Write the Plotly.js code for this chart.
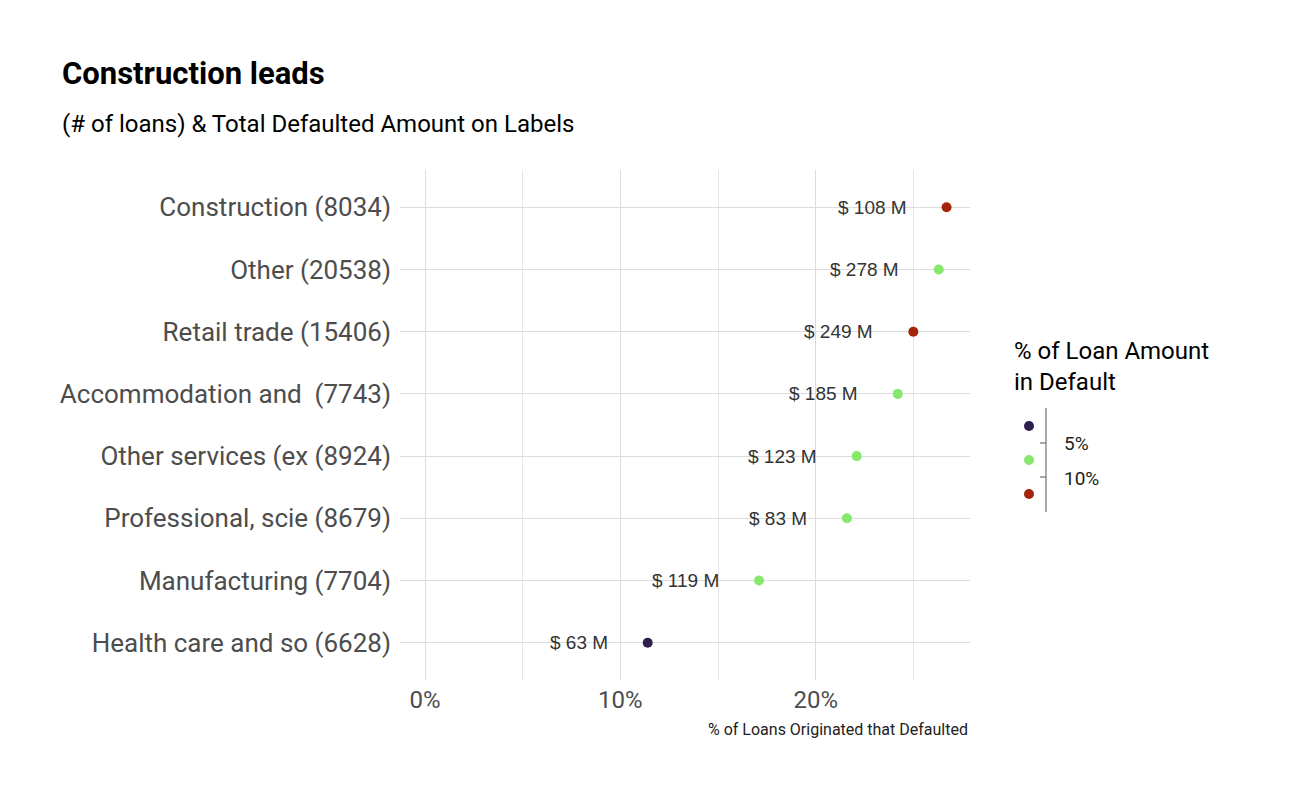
<!DOCTYPE html>
<html>
<head>
<meta charset="utf-8">
<script src="https://cdn.plot.ly/plotly-3.0.1.min.js"></script>
<style>body{margin:0;background:#fff}#graph{width:1296px;height:800px}</style>
</head>
<body>
<div id="graph"></div>
<script>
//chart data
const industries = ['Health care and so (6628)', 'Manufacturing (7704)', 'Professional, scie (8679)',
  'Other services (ex (8924)', 'Accommodation and  (7743)', 'Retail trade (15406)',
  'Other (20538)', 'Construction (8034)']
const pctDefaulted = [11.4, 17.1, 21.6, 22.1, 24.2, 25.0, 26.3, 26.7]
const amountLabels = ['$ 63 M', '$ 119 M', '$ 83 M', '$ 123 M', '$ 185 M', '$ 249 M', '$ 278 M', '$ 108 M']
const amountGroup = ['low', 'mid', 'mid', 'mid', 'mid', 'high', 'mid', 'high']
const groupColors = {low: '#2e1f4d', mid: '#86e86c', high: '#a3230b'}
const legendLabels = ['5%', '10%']

const font = 'Roboto, "Noto Sans", sans-serif'

const points = {
  x: pctDefaulted,
  y: industries,
  type: 'scatter',
  mode: 'markers',
  marker: {size: 10, color: amountGroup.map(g => groupColors[g])},
  hoverinfo: 'x+y',
  showlegend: false
}

//value labels to the left of each point
const labels = industries.map((ind, i) => ({
  x: pctDefaulted[i], y: ind, text: amountLabels[i],
  showarrow: false, xanchor: 'right', xshift: -38,
  font: {family: 'Liberation Sans, Arial', size: 19, color: '#333'}
}))

//pixel helpers: paper coords with margin l=400,r=326,t=170,b=120
const L = 400, R = 970, T = 170, B = 680
const px = x => (x - L) / (R - L)
const py = y => (B - y) / (B - T)

//legend + titles built by hand
const dotYs = [426, 460, 494]
const textItems = [
  {text: '% of Loan Amount<br>in Default', x: 1012, y: 366, xanchor: 'left', size: 24, color: '#000'},
  {text: legendLabels[0], x: 1062, y: 443, xanchor: 'left', size: 19, color: '#222'},
  {text: legendLabels[1], x: 1062, y: 478, xanchor: 'left', size: 19, color: '#222'},
  {text: '<b>Construction leads</b>', x: 60, y: 73, xanchor: 'left', size: 31, color: '#000'},
  {text: '(# of loans) & Total Defaulted Amount on Labels', x: 60, y: 124, xanchor: 'left', size: 24, color: '#000'},
  {text: '% of Loans Originated that Defaulted', x: 970, y: 729, xanchor: 'right', size: 16, color: '#222'}
]

const shapes = [
  ...dotYs.map((y, i) => ({
    type: 'circle', xref: 'paper', yref: 'paper',
    x0: px(1024), x1: px(1034), y0: py(y + 5), y1: py(y - 5),
    fillcolor: Object.values(groupColors)[i], line: {width: 0}
  })),
  {type: 'line', xref: 'paper', yref: 'paper', x0: px(1046), x1: px(1046), y0: py(408), y1: py(512), line: {color: '#555', width: 1}},
  {type: 'line', xref: 'paper', yref: 'paper', x0: px(1040), x1: px(1046), y0: py(443), y1: py(443), line: {color: '#555', width: 1}},
  {type: 'line', xref: 'paper', yref: 'paper', x0: px(1040), x1: px(1046), y0: py(477), y1: py(477), line: {color: '#555', width: 1}}
]

const annotations = labels.concat(textItems.map(a => ({
  text: a.text, xref: 'paper', yref: 'paper', x: px(a.x), y: py(a.y),
  xanchor: a.xanchor, yanchor: 'middle', showarrow: false, align: 'left',
  font: {family: font, size: a.size, color: a.color}
})))

const layout = {
  width: 1296, height: 800,
  margin: {l: L, r: 1296 - R, t: T, b: 800 - B, pad: 0},
  paper_bgcolor: '#fff', plot_bgcolor: '#fff',
  font: {family: font},
  xaxis: {
    range: [-1.28, 27.9], tickvals: [0, 10, 20], ticktext: ['0%', '10%', '20%'],
    showgrid: true, gridcolor: '#dcdcdc', gridwidth: 1, zeroline: false,
    minor: {tickvals: [5, 15, 25], showgrid: true, gridcolor: '#e6e6e6', gridwidth: 1},
    tickfont: {size: 24, color: '#4d4d4d'}, ticks: '', ticklabelstandoff: 3
  },
  yaxis: {
    categoryorder: 'array', categoryarray: industries, range: [-0.6, 7.6],
    showgrid: true, gridcolor: '#dcdcdc', zeroline: false,
    tickfont: {size: 26, color: '#4d4d4d'}, ticks: '', ticklabelstandoff: 8
  },
  shapes: shapes,
  annotations: annotations,
  showlegend: false
}

Plotly.newPlot('graph', [points], layout, {displayModeBar: false})
</script>
</body>
</html>
